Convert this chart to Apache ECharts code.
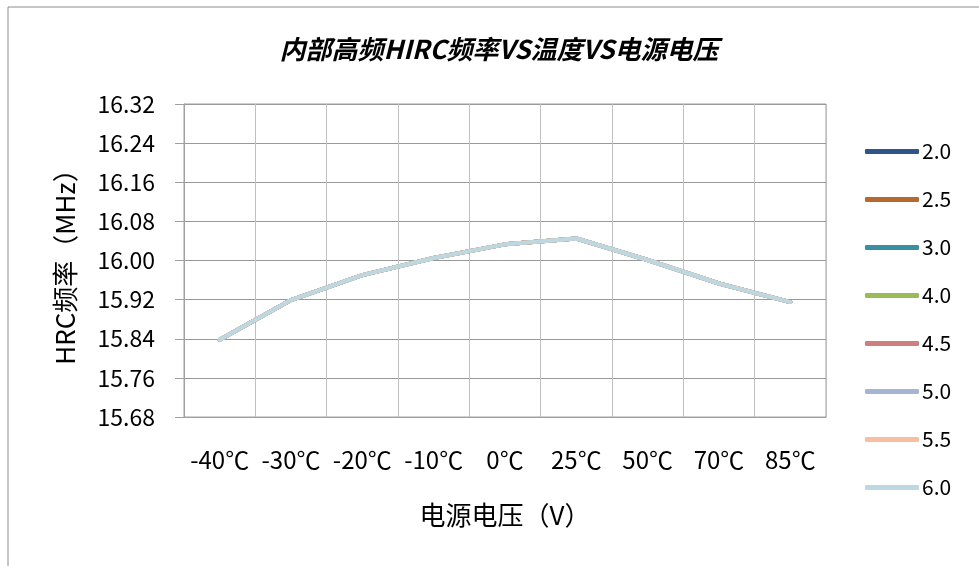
<!DOCTYPE html>
<html>
<head>
<meta charset="utf-8">
<script src="https://cdn.jsdelivr.net/npm/echarts@6/dist/echarts.min.js"></script>
<style>
  html, body { margin: 0; padding: 0; background: #fff; }
  #chart { width: 979px; height: 566px; }
</style>
</head>
<body>
<div id="chart"></div>
<script>
// categories (temperatures)
const temps = ['-40℃', '-30℃', '-20℃', '-10℃', '0℃', '25℃', '50℃', '70℃', '85℃'];

// one line per supply voltage (they overlap)
const v20 = [15.838, 15.919, 15.970, 16.005, 16.033, 16.045, 16.001, 15.953, 15.915];
const v25 = [15.838, 15.919, 15.970, 16.005, 16.033, 16.045, 16.001, 15.953, 15.915];
const v30 = [15.838, 15.919, 15.970, 16.005, 16.033, 16.045, 16.001, 15.953, 15.915];
const v40 = [15.838, 15.919, 15.970, 16.005, 16.033, 16.045, 16.001, 15.953, 15.915];
const v45 = [15.838, 15.919, 15.970, 16.005, 16.033, 16.045, 16.001, 15.953, 15.915];
const v50 = [15.838, 15.919, 15.970, 16.005, 16.033, 16.045, 16.001, 15.953, 15.915];
const v55 = [15.838, 15.919, 15.970, 16.005, 16.033, 16.045, 16.001, 15.953, 15.915];
const v60 = [15.838, 15.919, 15.970, 16.005, 16.033, 16.045, 16.001, 15.953, 15.915];

const seriesNames = ['2.0', '2.5', '3.0', '4.0', '4.5', '5.0', '5.5', '6.0'];
const seriesData = [v20, v25, v30, v40, v45, v50, v55, v60];
const colors = ['#2f5487', '#b5692f', '#3a8fa3', '#9bbb59', '#cd7f7f', '#a5b5d3', '#f7bfa0', '#bed8e2'];

const font = '"Noto Sans CJK SC", "Noto Sans", sans-serif';

let chart = echarts.init(document.getElementById('chart'));

chart.setOption({
  animation: false,
  color: colors,
  textStyle: { fontFamily: font },
  title: {
    text: '内部高频HIRC频率VS温度VS电源电压',
    left: 494,
    textAlign: 'center',
    top: 31,
    textStyle: {
      fontFamily: font,
      fontSize: 26,
      fontWeight: 'bold',
      fontStyle: 'italic',
      color: '#000'
    }
  },
  graphic: [
    {
      type: 'rect',
      shape: { x: 8, y: 7, width: 1000, height: 600 },
      style: { fill: 'none', stroke: '#8c8c8c', lineWidth: 1 },
      silent: true
    }
  ],
  legend: {
    orient: 'vertical',
    left: 860,
    top: 136,
    itemWidth: 54,
    itemHeight: 5,
    itemGap: 27,
    icon: 'roundRect',
    textStyle: { fontSize: 21, color: '#000', padding: [0, 0, 0, -2] },
    data: seriesNames
  },
  grid: {
    left: 184,
    right: 153,
    top: 104,
    bottom: 149,
    show: true,
    borderColor: '#a0a0a0',
    borderWidth: 1
  },
  xAxis: {
    type: 'category',
    data: temps,
    boundaryGap: true,
    name: '电源电压（V）',
    nameLocation: 'middle',
    nameGap: 85,
    nameTextStyle: { fontSize: 26, color: '#000' },
    axisLine: { show: true, lineStyle: { color: '#a0a0a0' } },
    axisTick: { show: false },
    axisLabel: { fontSize: 24, color: '#000', margin: 31, interval: 0 },
    splitLine: { show: true, lineStyle: { color: '#bfbfbf', width: 1 } }
  },
  yAxis: {
    type: 'value',
    min: 15.68,
    max: 16.32,
    interval: 0.08,
    name: 'HRC频率（MHz）',
    nameLocation: 'middle',
    nameGap: 106,
    nameRotate: 90,
    nameTextStyle: { fontSize: 26, color: '#000' },
    axisLine: { show: true, lineStyle: { color: '#a0a0a0' } },
    axisTick: { show: true, length: 9, lineStyle: { color: '#a0a0a0' } },
    axisLabel: {
      fontSize: 23,
      color: '#000',
      margin: 29,
      formatter: v => v.toFixed(2)
    },
    splitLine: { show: true, lineStyle: { color: '#999999', width: 1 } }
  },
  series: seriesNames.map((name, i) => ({
    name: name,
    type: 'line',
    data: seriesData[i],
    symbol: 'none',
    lineStyle: { width: 4, cap: 'round', join: 'round' }
  }))
});
</script>
</body>
</html>
